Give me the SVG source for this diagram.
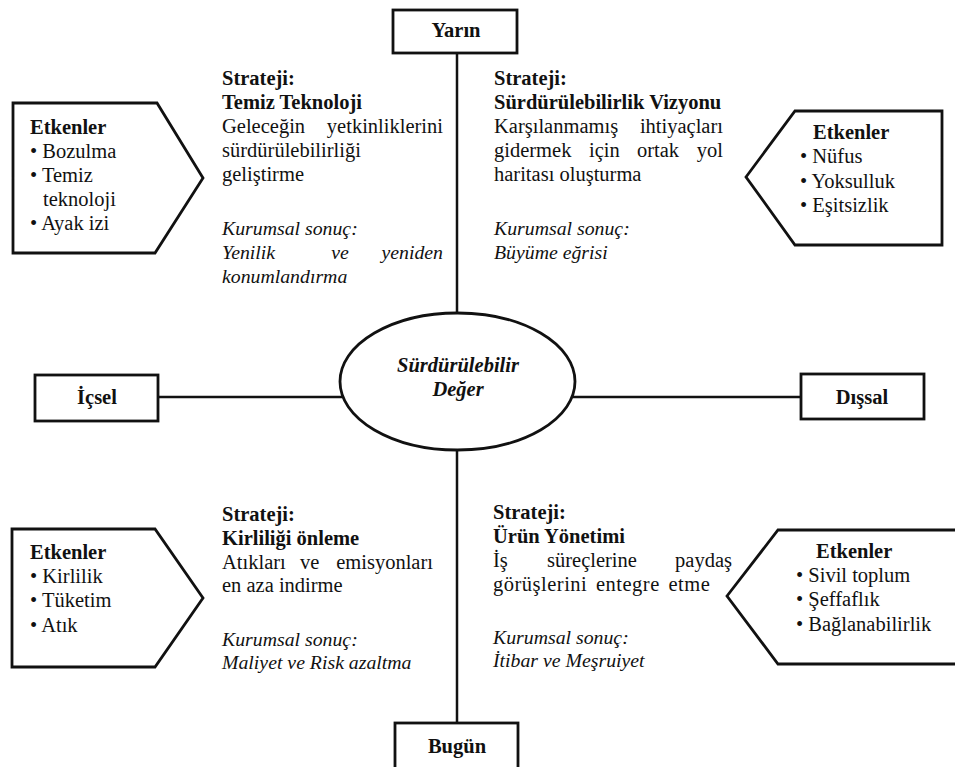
<svg xmlns="http://www.w3.org/2000/svg" width="955" height="767" viewBox="0 0 955 767">
<style>
text{font-family:"Liberation Serif","Times New Roman",serif;font-size:20.5px;fill:#111}
.b{font-weight:bold}
.i{font-style:italic;font-size:19.8px}
.bi{font-weight:bold;font-style:italic}
.c{text-anchor:middle}
.e{text-anchor:end}
.box{fill:#fff;stroke:#111;stroke-width:2.8}
.ln{stroke:#111;stroke-width:2.5;fill:none}
</style>
<rect width="955" height="767" fill="#fff"/>
<g id="connectors">
<line class="ln" x1="457" y1="53" x2="457" y2="313"/>
<line class="ln" x1="457" y1="450" x2="457" y2="723"/>
<line class="ln" x1="158" y1="397" x2="343" y2="397"/>
<line class="ln" x1="572" y1="397" x2="801" y2="397"/>
</g>
<g id="yarin">
<rect class="box" x="393" y="10" width="124" height="43"/>
<text class="b c" x="456" y="37">Yarın</text>
</g>
<g id="bugun">
<rect class="box" x="395" y="723" width="123" height="60"/>
<text class="b c" x="457" y="753">Bugün</text>
</g>
<g id="icsel">
<rect class="box" x="35" y="375" width="123" height="46"/>
<text class="b c" x="97" y="404">İçsel</text>
</g>
<g id="dissal">
<rect class="box" x="801" y="374" width="123" height="45"/>
<text class="b c" x="862" y="404">Dışsal</text>
</g>
<g id="deger">
<ellipse class="box" cx="457.5" cy="381.5" rx="117.5" ry="68.5"/>
<text class="bi c" x="458" y="372">Sürdürülebilir</text>
<text class="bi c" x="458" y="396">Değer</text>
</g>
<g id="etken-tl">
<path class="box" d="M13,103 H157 L203,178 L155,253 H13 Z"/>
<text class="b" x="30" y="134">Etkenler</text>
<text x="30" y="158">• Bozulma</text>
<text x="30" y="182">• Temiz</text>
<text x="43" y="206">teknoloji</text>
<text x="30" y="230">• Ayak izi</text>
</g>
<g id="etken-tr">
<path class="box" d="M746,177 L795,111 H942 V245 H795 Z"/>
<text class="b" x="813" y="139">Etkenler</text>
<text x="800" y="163">• Nüfus</text>
<text x="800" y="188">• Yoksulluk</text>
<text x="800" y="212">• Eşitsizlik</text>
</g>
<g id="etken-bl">
<path class="box" d="M12,529 H155 L203,598 L155,667 H12 Z"/>
<text class="b" x="30" y="559">Etkenler</text>
<text x="30" y="583">• Kirlilik</text>
<text x="30" y="607">• Tüketim</text>
<text x="30" y="632">• Atık</text>
</g>
<g id="etken-br">
<path class="box" d="M727,596 L778,530 H960 V664 H778 Z"/>
<text class="b" x="816" y="558">Etkenler</text>
<text x="796" y="582">• Sivil toplum</text>
<text x="796" y="606">• Şeffaflık</text>
<text x="796" y="631">• Bağlanabilirlik</text>
</g>
<g id="strateji-tl">
<text class="b" x="222" y="85">Strateji:</text>
<text class="b" x="222" y="109">Temiz Teknoloji</text>
<text x="222" y="133">Geleceğin</text>
<text class="e" x="443" y="133">yetkinliklerini</text>
<text x="222" y="157">sürdürülebilirliği</text>
<text x="222" y="181">geliştirme</text>
<text class="i" x="222" y="235">Kurumsal sonuç:</text>
<text class="i" x="222" y="259">Yenilik</text>
<text class="i c" x="340" y="259">ve</text>
<text class="i e" x="443" y="259">yeniden</text>
<text class="i" x="222" y="283">konumlandırma</text>
</g>
<g id="strateji-tr">
<text class="b" x="494" y="85">Strateji:</text>
<text class="b" x="494" y="109">Sürdürülebilirlik Vizyonu</text>
<text x="494" y="133">Karşılanmamış</text>
<text class="e" x="723" y="133">ihtiyaçları</text>
<text x="494" y="157">gidermek</text>
<text x="589" y="157">için</text>
<text x="637" y="157">ortak</text>
<text class="e" x="723" y="157">yol</text>
<text x="494" y="181">haritası oluşturma</text>
<text class="i" x="494" y="235">Kurumsal sonuç:</text>
<text class="i" x="494" y="259">Büyüme eğrisi</text>
</g>
<g id="strateji-bl">
<text class="b" x="222" y="521">Strateji:</text>
<text class="b" x="222" y="545">Kirliliği önleme</text>
<text x="222" y="569">Atıkları</text>
<text x="300" y="569">ve</text>
<text class="e" x="433" y="569">emisyonları</text>
<text x="222" y="592">en aza indirme</text>
<text class="i" x="222" y="646">Kurumsal sonuç:</text>
<text class="i" x="222" y="669">Maliyet ve Risk azaltma</text>
</g>
<g id="strateji-br">
<text class="b" x="493" y="519">Strateji:</text>
<text class="b" x="493" y="543">Ürün Yönetimi</text>
<text x="493" y="567">İş</text>
<text x="547" y="567">süreçlerine</text>
<text class="e" x="732" y="567">paydaş</text>
<text x="493" y="591" word-spacing="3" letter-spacing="0.5">görüşlerini entegre etme</text>
<text class="i" x="493" y="644">Kurumsal sonuç:</text>
<text class="i" x="493" y="667">İtibar ve Meşruiyet</text>
</g>
</svg>
